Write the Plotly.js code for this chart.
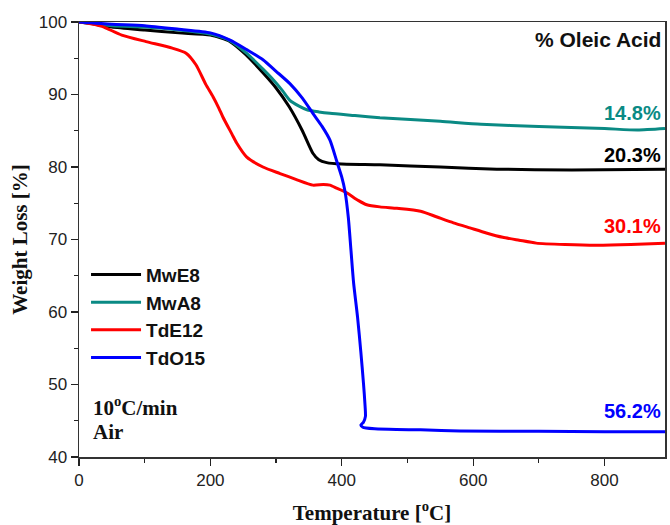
<!DOCTYPE html>
<html>
<head>
<meta charset="utf-8">
<script src="https://cdn.plot.ly/plotly-3.0.1.min.js"></script>
<style>html,body{margin:0;padding:0;background:#fff;}#chart{width:670px;height:525px;}</style>
</head>
<body>
<div id="chart"></div>
<script>
// ---- data ----
const seriesNames = ["MwE8", "MwA8", "TdE12", "TdO15"];
const seriesColors = ["#000000", "#0a8a84", "#ff0000", "#0000ff"];
const lossLabels = ["20.3%", "14.8%", "30.1%", "56.2%"];

const mwe8X = [0, 25, 50, 100, 152, 200, 230, 254, 280, 300, 320, 340, 356, 365, 377, 400, 458, 550, 636, 750, 892];
const mwe8Y = [100, 99.7, 99.3, 98.9, 98.5, 98.2, 97.3, 95.5, 93.0, 90.9, 88.3, 85.0, 81.9, 81.0, 80.6, 80.4, 80.3, 80.0, 79.7, 79.6, 79.7];

const mwa8X = [0, 50, 100, 152, 202, 230, 255, 280, 296, 310, 321, 335, 347, 365, 382, 420, 458, 550, 612, 700, 800, 850, 892];
const mwa8Y = [100, 99.5, 99.3, 98.9, 98.3, 97.4, 95.7, 93.5, 92.0, 90.5, 89.2, 88.4, 87.9, 87.6, 87.4, 87.1, 86.8, 86.3, 85.9, 85.6, 85.3, 85.1, 85.3];

const tde12X = [0, 10, 35, 65, 102, 142, 163, 178, 193, 204, 213, 219, 233, 240, 255, 280, 306, 330, 356, 372, 382, 392, 402, 410, 425, 438, 458, 484, 520, 545, 570, 595, 620, 645, 670, 696, 740, 787, 840, 892];
const tde12Y = [100, 99.9, 99.4, 98.2, 97.3, 96.4, 95.7, 94.1, 91.4, 89.7, 88.1, 86.9, 84.5, 83.3, 81.4, 80.0, 79.1, 78.3, 77.5, 77.6, 77.5, 77.1, 76.7, 76.3, 75.4, 74.8, 74.5, 74.3, 73.9, 73.1, 72.3, 71.6, 70.9, 70.3, 69.9, 69.5, 69.3, 69.2, 69.3, 69.5];

const tdo15X = [0, 50, 100, 152, 200, 230, 255, 280, 300, 321, 340, 356, 370, 382, 392, 400, 405, 410, 414, 418, 424, 429, 433, 435.5, 436, 433, 429, 432, 437, 450, 483, 520, 580, 700, 800, 892];
const tdo15Y = [100, 99.7, 99.5, 99.0, 98.5, 97.5, 96.2, 94.8, 93.2, 91.5, 89.5, 87.4, 85.6, 83.7, 80.9, 78.6, 76.6, 73.0, 68.5, 64.0, 59.3, 54.5, 50.2, 47.0, 45.6, 44.8, 44.4, 44.1, 44.0, 43.9, 43.8, 43.75, 43.6, 43.55, 43.5, 43.5];

const xTickVals = [0, 200, 400, 600, 800];
const yTickVals = [40, 50, 60, 70, 80, 90, 100];

const allX = [mwe8X, mwa8X, tde12X, tdo15X];
const allY = [mwe8Y, mwa8Y, tde12Y, tdo15Y];

const traces = seriesNames.map((n, i) => ({
  type: "scatter", mode: "lines", name: n,
  x: allX[i], y: allY[i],
  line: {color: seriesColors[i], width: 3, shape: "spline", smoothing: 0.6}
}));

const sans = "Liberation Sans, Arial, sans-serif";
const serif = "Liberation Serif, Times New Roman, serif";

const labelY = [0.694, 0.791, 0.531, 0.106];
const annotations = lossLabels.map((t, i) => ({
  xref: "paper", yref: "paper", x: 0.997, y: labelY[i], xanchor: "right", yanchor: "middle",
  text: "<b>" + t + "</b>", showarrow: false, font: {family: sans, size: 20, color: seriesColors[i]}
}));
annotations.push({xref: "paper", yref: "paper", x: 0.997, y: 0.959, xanchor: "right", yanchor: "middle",
  text: "<b>% Oleic Acid</b>", showarrow: false, font: {family: sans, size: 21, color: "#111"}});
annotations.push({xref: "paper", yref: "paper", x: 0.02, y: 0.115, xanchor: "left", yanchor: "middle",
  text: "<b>10<sup>o</sup>C/min</b>", showarrow: false, font: {family: serif, size: 21, color: "#111"}});
annotations.push({xref: "paper", yref: "paper", x: 0.02, y: 0.057, xanchor: "left", yanchor: "middle",
  text: "<b>Air</b>", showarrow: false, font: {family: serif, size: 21, color: "#111"}});

const layout = {
  width: 670, height: 525,
  margin: {l: 79, r: 5, t: 22, b: 68},
  paper_bgcolor: "#fff", plot_bgcolor: "#fff",
  showlegend: true,
  legend: {x: 0.012, y: 0.463, xanchor: "left", yanchor: "top", bgcolor: "rgba(0,0,0,0)",
    font: {family: sans, size: 19, color: "#111", weight: "bold"}, itemwidth: 50, tracegroupgap: 0},
  xaxis: {
    range: [0, 892], tickvals: xTickVals, ticks: "outside", ticklen: 7, tickwidth: 1.2, tickcolor: "#222",
    showline: true, linecolor: "#333", linewidth: 1.5, mirror: true, showgrid: false, zeroline: false,
    minor: {dtick: 100, ticks: "outside", ticklen: 4, tickcolor: "#222", showgrid: false},
    tickfont: {family: sans, size: 17, color: "#222"},
    title: {text: "<b>Temperature [<sup>o</sup>C]</b>", font: {family: serif, size: 21, color: "#111"}, standoff: 18}
  },
  yaxis: {
    range: [40, 100], tickvals: yTickVals, ticks: "outside", ticklen: 7, tickwidth: 1.2, tickcolor: "#222",
    showline: true, linecolor: "#333", linewidth: 1.5, mirror: true, showgrid: false, zeroline: false,
    minor: {dtick: 5, ticks: "outside", ticklen: 4, tickcolor: "#222", showgrid: false},
    tickfont: {family: sans, size: 17, color: "#222"},
    title: {text: "<b>Weight Loss [%]</b>", font: {family: serif, size: 21, color: "#111"}, standoff: 5}
  },
  annotations: annotations
};

Plotly.newPlot("chart", traces, layout, {displayModeBar: false, staticPlot: true});
</script>
</body>
</html>
